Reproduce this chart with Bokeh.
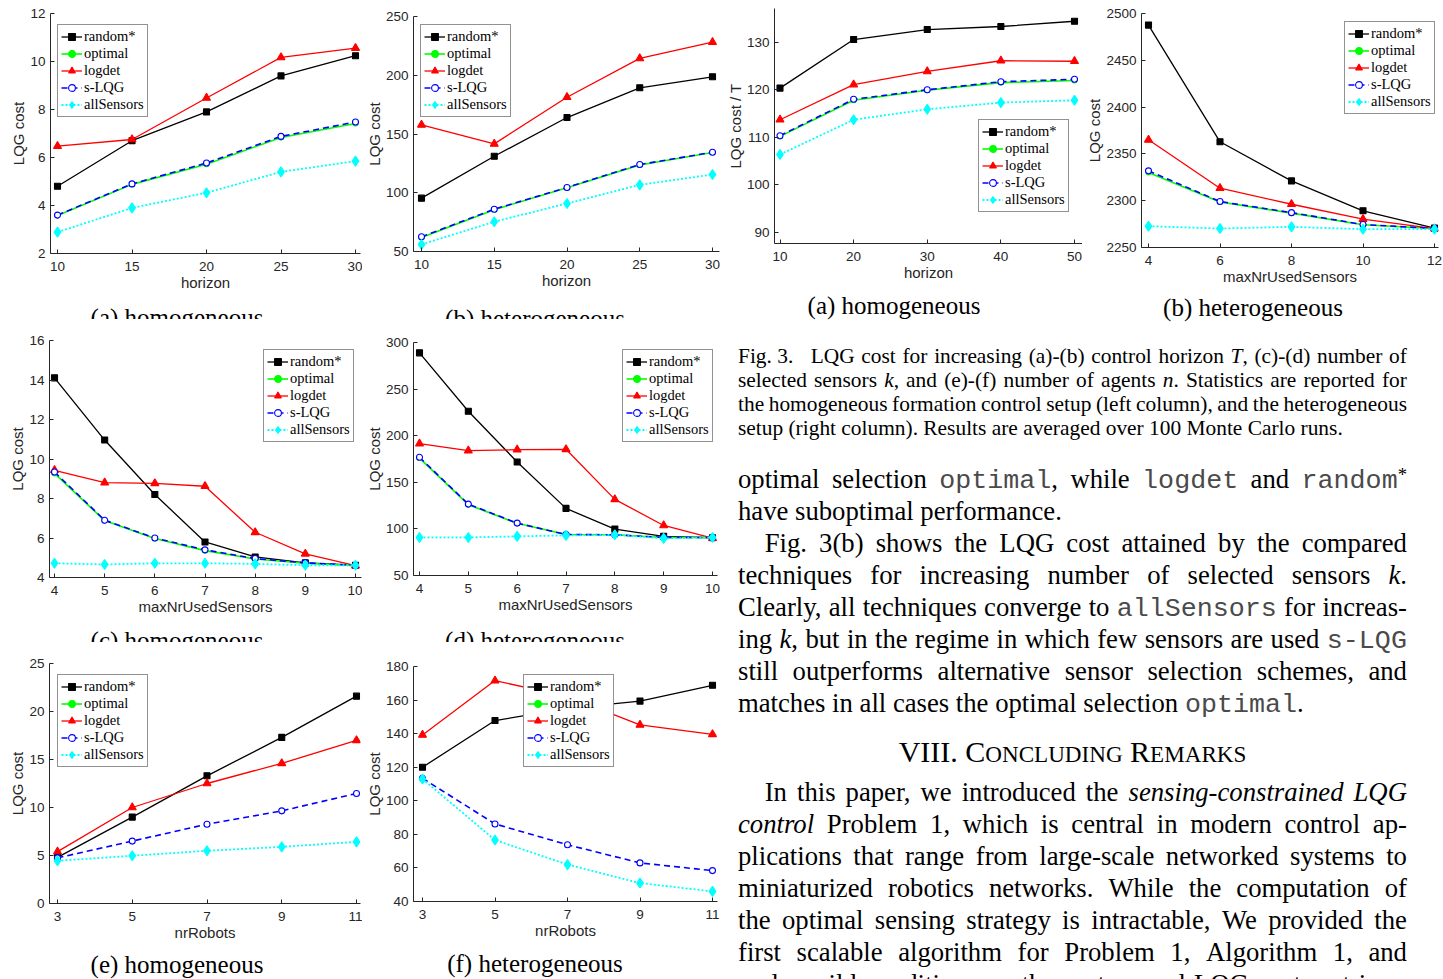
import numpy as np
from bokeh.plotting import figure
from bokeh.models import Range1d, FixedTicker, Legend, LegendItem, Div
from bokeh.layouts import row, column
from bokeh.embed import file_html
from bokeh.resources import INLINE

NaN = np.nan

# ---------------- data ----------------
NAMES = ["random*", "optimal", "logdet", "s-LQG", "allSensors"]

horizon = [10, 15, 20, 25, 30]
a_random = [4.8, 6.7, 7.9, 9.4, 10.24]
a_optimal = [3.58, 4.88, 5.72, 6.83, 7.42]
a_logdet = [6.47, 6.75, 8.48, 10.17, 10.56]
a_slqg = [3.6, 4.9, 5.77, 6.88, 7.48]
a_all = [2.89, 3.9, 4.53, 5.4, 5.85]

b_random = [95.4, 131.1, 164.0, 189.3, 198.7]
b_optimal = [62.0, 85.6, 104.2, 123.6, 134.2]
b_logdet = [157.8, 141.6, 181.3, 214.3, 228.2]
b_slqg = [62.5, 86.0, 104.5, 124.0, 134.5]
b_all = [56.0, 75.3, 90.9, 106.7, 115.5]

sensors = [4, 5, 6, 7, 8, 9, 10]
c_random = [14.11, 10.96, 8.2, 5.8, 5.04, 4.74, 4.62]
c_optimal = [9.27, 6.88, 5.97, 5.36, 4.94, 4.72, 4.6]
c_logdet = [9.43, 8.80, 8.77, 8.62, 6.29, 5.2, 4.6]
c_slqg = [9.34, 6.9, 6.0, 5.4, 4.96, 4.74, 4.62]
c_all = [4.72, 4.66, 4.72, 4.72, 4.69, 4.62, 4.62]

d_random = [288.9, 226.2, 171.8, 122.0, 99.8, 92.0, 90.5]
d_optimal = [176.0, 126.0, 106.0, 94.0, 93.7, 90.8, 90.8]
d_logdet = [191.5, 184.0, 185.0, 185.4, 131.7, 103.7, 90.0]
d_slqg = [176.8, 126.6, 106.2, 94.0, 93.7, 90.8, 90.8]
d_all = [90.8, 90.8, 92.0, 93.0, 93.7, 89.8, 90.8]

robots = [3, 5, 7, 9, 11]
e_random = [4.8, 9.0, 13.3, 17.3, 21.6]
e_optimal = [NaN, NaN, NaN, NaN, NaN]
e_logdet = [5.4, 10.0, 12.5, 14.6, 17.0]
e_slqg = [4.75, 6.5, 8.26, 9.65, 11.46]
e_all = [4.45, 4.97, 5.49, 5.9, 6.42]

f_random = [120.0, 147.8, 155.0, 159.4, 168.8]
f_optimal = [NaN, NaN, NaN, NaN, NaN]
f_logdet = [139.2, 171.6, 162.0, 145.2, 139.6]
f_slqg = [113.4, 86.2, 73.8, 63.0, 58.4]
f_all = [113.0, 76.6, 62.0, 51.0, 46.0]

horizon2 = [10, 20, 30, 40, 50]
g_random = [120.35, 130.56, 132.66, 133.3, 134.4]
g_optimal = [110.2, 117.8, 119.9, 121.5, 121.95]
g_logdet = [113.7, 121.1, 123.85, 126.1, 126.0]
g_slqg = [110.35, 118.0, 120.0, 121.7, 122.2]
g_all = [106.4, 113.7, 115.9, 117.3, 117.8]

sensors2 = [4, 6, 8, 10, 12]
h_random = [2487.9, 2362.9, 2321.0, 2289.0, 2270.4]
h_optimal = [2330.0, 2298.5, 2286.5, 2274.0, 2270.0]
h_logdet = [2365.0, 2313.2, 2296.0, 2280.0, 2270.0]
h_slqg = [2331.8, 2298.9, 2287.0, 2274.3, 2270.0]
h_all = [2272.5, 2270.0, 2271.8, 2269.3, 2269.3]

# tick values
a_yticks = [2, 4, 6, 8, 10, 12]
b_yticks = [50, 100, 150, 200, 250]
c_yticks = [4, 6, 8, 10, 12, 14, 16]
d_yticks = [50, 100, 150, 200, 250, 300]
e_yticks = [0, 5, 10, 15, 20, 25]
f_yticks = [40, 60, 80, 100, 120, 140, 160, 180]
g_yticks = [90, 100, 110, 120, 130]
h_yticks = [2250, 2300, 2350, 2400, 2450, 2500]

AXC = "#262626"
STY = [
    dict(color="black", width=1.3, dash="solid", marker="square", size=6, fill="black"),
    dict(color="#00ff00", width=1.6, dash="solid", marker="circle", size=5, fill="#00ff00"),
    dict(color="#ff0000", width=1.3, dash="solid", marker="triangle", size=8, fill="#ff0000"),
    dict(color="#0000ff", width=1.6, dash="6 4", marker="circle", size=6, fill="white"),
    dict(color="#00ffff", width=1.8, dash="2 2", marker="diamond", size=10, fill="#00ffff"),
]


def make_panel(canvas, frame, xcal, ycal, xdata, ys, xticks, yticks, xlabel, ylabel, legbox):
    cx0, cy0, cx1, cy1 = canvas
    l, t, r, b = frame
    (v1, p1), (v2, p2) = xcal
    (w1, q1), (w2, q2) = ycal
    fx = lambda p: v1 + (p - p1) * (v2 - v1) / (p2 - p1)
    fy = lambda q: w1 + (q - q1) * (w2 - w1) / (q2 - q1)
    p = figure(width=cx1 - cx0, height=cy1 - cy0, x_range=Range1d(fx(l), fx(r)), y_range=Range1d(fy(b), fy(t)),
               toolbar_location=None, output_backend="svg", title=None,
               min_border_left=l - cx0, min_border_right=cx1 - r,
               min_border_top=t - cy0, min_border_bottom=cy1 - b)
    p.frame_align = False
    p.outline_line_color = None
    p.grid.visible = False
    p.background_fill_color = "white"
    p.border_fill_color = "white"
    p.xaxis.ticker = FixedTicker(ticks=xticks)
    p.yaxis.ticker = FixedTicker(ticks=yticks)
    p.xaxis.axis_label = xlabel
    p.yaxis.axis_label = ylabel
    for ax in (p.xaxis, p.yaxis):
        ax.axis_line_color = AXC
        ax.axis_line_width = 1
        ax.major_tick_line_color = AXC
        ax.major_tick_in = 4
        ax.major_tick_out = 0
        ax.minor_tick_line_color = None
        ax.major_label_text_font = "Liberation Sans"
        ax.major_label_text_font_size = "13.5px"
        ax.major_label_text_color = AXC
        ax.axis_label_text_font = "Liberation Sans"
        ax.axis_label_text_font_size = "15px"
        ax.axis_label_text_font_style = "normal"
        ax.axis_label_text_color = AXC
        ax.axis_label_standoff = 0
    p.yaxis.major_label_standoff = 5
    p.xaxis.major_label_standoff = 8

    items = []
    for name, yv, st in zip(NAMES, ys, STY):
        yv = np.asarray(yv, dtype=float)
        lr = p.line(xdata, yv, line_color=st["color"], line_width=st["width"], line_dash=st["dash"])
        mr = p.scatter(xdata, yv, marker=st["marker"], size=st["size"], line_color=st["color"],
                       fill_color=st["fill"], line_width=1.1)
        items.append(LegendItem(label=name, renderers=[lr, mr]))
    L, T, R, B = legbox
    leg = Legend(items=items, location=(L - l, b - B),
                 border_line_color=AXC, border_line_width=1, background_fill_color="white",
                 background_fill_alpha=1.0, padding=3, spacing=0, margin=0, label_standoff=2,
                 glyph_width=21, glyph_height=17, label_height=17,
                 label_text_font="Liberation Serif", label_text_font_size="14.5px",
                 label_text_color="black")
    p.add_layout(leg)
    return p


def caption_strip(x0, y0, x1, y1, caps):
    parts = []
    for text, cx, cy in caps:
        parts.append(f'<div style="position:absolute;left:{cx - x0 - 160}px;width:320px;top:{cy - y0 - 15}px;'
                     f'height:30px;line-height:30px;text-align:center;white-space:nowrap;">{text}</div>')
    html = (f'<div style="position:relative;width:{x1 - x0}px;height:{y1 - y0}px;overflow:hidden;'
            f"font-family:'Liberation Serif',serif;font-size:25px;color:#000;background:white;\">"
            + "".join(parts) + "</div>")
    return Div(text=html, width=x1 - x0, height=y1 - y0, margin=(0, 0, 0, 0))


C1, LB, C3 = 362, 720, 1082   # column boundaries (px)
R1, R2, R3, RT = 302, 625, 951, 294   # bottom of plot canvases (px)

pa = make_panel((0, 0, C1, R1), (50, 13, 360, 253), ((10, 57), (30, 355)), ((12, 13), (2, 253)),
                horizon, [a_random, a_optimal, a_logdet, a_slqg, a_all], horizon, a_yticks,
                "horizon", "LQG cost", (57, 27, 148, 117))
pb = make_panel((C1, 0, LB, R1), (413, 16, 719, 251), ((10, 421), (30, 712)), ((250, 16), (50, 251)),
                horizon, [b_random, b_optimal, b_logdet, b_slqg, b_all], horizon, b_yticks,
                "horizon", "LQG cost", (420, 31, 507, 117))
cap1 = caption_strip(0, R1, LB, 319, [("(a) homogeneous", 177, 318), ("(b) heterogeneous", 535, 319)])
pc = make_panel((0, 319, C1, R2), (49, 340, 361, 577), ((4, 54), (10, 355)), ((16, 340), (4, 577)),
                sensors, [c_random, c_optimal, c_logdet, c_slqg, c_all], sensors, c_yticks,
                "maxNrUsedSensors", "LQG cost", (263, 353, 353, 442))
pd = make_panel((C1, 319, LB, R2), (413, 342, 717, 575), ((4, 419), (10, 712)), ((300, 342), (50, 575)),
                sensors, [d_random, d_optimal, d_logdet, d_slqg, d_all], sensors, d_yticks,
                "maxNrUsedSensors", "LQG cost", (622, 356, 711, 442))
cap2 = caption_strip(0, R2, LB, 642, [("(c) homogeneous", 177, 641), ("(d) heterogeneous", 535, 641)])
pe = make_panel((0, 642, C1, R3), (49, 663, 360, 903), ((3, 57), (11, 356)), ((25, 663), (0, 903)),
                robots, [e_random, e_optimal, e_logdet, e_slqg, e_all], robots, e_yticks,
                "nrRobots", "LQG cost", (57, 678, 148, 767))
pf = make_panel((C1, 642, LB, R3), (413, 666, 717, 901), ((3, 422), (11, 712)), ((180, 666), (40, 901)),
                robots, [f_random, f_optimal, f_logdet, f_slqg, f_all], robots, f_yticks,
                "nrRobots", "LQG cost", (523, 681, 611, 767))
cap3 = caption_strip(0, R3, LB, 979, [("(e) homogeneous", 177, 965), ("(f) heterogeneous", 535, 964)])
pg = make_panel((LB, 0, C3, RT), (774, 8, 1082, 243), ((10, 779.5), (50, 1074)), ((130, 41.7), (90, 232)),
                horizon2, [g_random, g_optimal, g_logdet, g_slqg, g_all], horizon2, g_yticks,
                "horizon", "LQG cost / T", (978, 125, 1066, 212))
ph = make_panel((C3, 0, 1443, RT), (1141, 13, 1438, 247), ((4, 1148), (12, 1434)), ((2500, 13.3), (2250, 246.7)),
                sensors2, [h_random, h_optimal, h_logdet, h_slqg, h_all], sensors2, h_yticks,
                "maxNrUsedSensors", "LQG cost", (1344, 28, 1432, 114))
cap4 = caption_strip(LB, RT, 1443, 330, [("(a) homogeneous", 894, 306), ("(b) heterogeneous", 1253, 308)])

# ---------------- text column ----------------
TT = "<span style=\"font-family:'Liberation Mono',monospace;color:#4a4a4a\">"
SUP = "<span style=\"position:relative;top:-0.4em;font-size:0.7em\">"


def fix(s):
    return s.replace("<tt>", TT).replace("</tt>", "</span>").replace("<sup>", SUP).replace("</sup>", "</span>")


caption_lines = [
    ("j", "Fig.\u00a03. \u2002LQG cost for increasing (a)-(b) control horizon <i>T</i>, (c)-(d) number of"),
    ("j", "selected sensors <i>k</i>, and (e)-(f) number of agents <i>n</i>. Statistics are reported for"),
    ("j", "the homogeneous formation control setup (left column), and the heterogeneous"),
    ("l", "setup (right column). Results are averaged over 100 Monte Carlo runs."),
]
body_lines = [
    ("j", 0, "optimal selection <tt>optimal</tt>, while <tt>logdet</tt> and <tt>random</tt><sup>*</sup>"),
    ("l", 0, "have suboptimal performance."),
    ("j", 1, "Fig. 3(b) shows the LQG cost attained by the compared"),
    ("j", 0, "techniques for increasing number of selected sensors <i>k</i>."),
    ("j", 0, "Clearly, all techniques converge to <tt>allSensors</tt> for increas-"),
    ("j", 0, "ing <i>k</i>, but in the regime in which few sensors are used <tt>s-LQG</tt>"),
    ("j", 0, "still outperforms alternative sensor selection schemes, and"),
    ("l", 0, "matches in all cases the optimal selection <tt>optimal</tt>."),
]
para_lines = [
    ("j", 1, "In this paper, we introduced the <i>sensing-constrained</i> <i>LQG</i>"),
    ("j", 0, "<i>control</i> Problem 1, which is central in modern control ap-"),
    ("j", 0, "plications that range from large-scale networked systems to"),
    ("j", 0, "miniaturized robotics networks. While the computation of"),
    ("j", 0, "the optimal sensing strategy is intractable, We provided the"),
    ("j", 0, "first scalable algorithm for Problem 1, Algorithm 1, and"),
    ("j", 0, "under mild conditions on the system and LQG cost matrices,"),
]

DX0, DY0 = LB, 330
DW = 1443 - DX0
DH = 979 - DY0
TL = 738 - DX0
TW = 669
BODY_FS = 26.7
CAP_FS = 21.4


def line_div(kind, top_ref, lh, fs, s, indent_em=0):
    top = top_ref - DY0
    base = (f"position:absolute;left:{TL}px;width:{TW}px;top:{top}px;height:{lh}px;"
            f"line-height:{lh}px;font-size:{fs}px;white-space:nowrap;"
            f"padding-left:{indent_em}em;box-sizing:border-box;")
    if kind == "j":
        spans = "".join(f"<span>{fix(w)}</span>" for w in s.split(" "))
        return f'<div style="{base}display:flex;justify-content:space-between;">{spans}</div>'
    return f'<div style="{base}">{fix(s)}</div>'


parts = []
for i, (k, s) in enumerate(caption_lines):
    parts.append(line_div(k, 344 + 24 * i, 24, CAP_FS, s))
for i, (k, ind, s) in enumerate(body_lines):
    parts.append(line_div(k, 463 + 32 * i, 32, BODY_FS, s, ind))
heading = ("VIII. C<span style=\"font-size:0.77em\">ONCLUDING</span> "
           "R<span style=\"font-size:0.77em\">EMARKS</span>")
parts.append(f'<div style="position:absolute;left:{TL}px;width:{TW}px;top:{736 - DY0}px;'
             f'height:32px;line-height:32px;font-size:30px;text-align:center;'
             f'white-space:nowrap;">{heading}</div>')
for i, (k, ind, s) in enumerate(para_lines):
    parts.append(line_div(k, 776 + 32 * i, 32, BODY_FS, s, ind))

html = (f'<div style="position:relative;width:{DW}px;height:{DH}px;overflow:hidden;'
        f"font-family:'Liberation Serif',serif;color:#000;background:white;\">" + "".join(parts) + "</div>")
div = Div(text=html, width=DW, height=DH, margin=(0, 0, 0, 0))

left = column(row(pa, pb), cap1, row(pc, pd), cap2, row(pe, pf), cap3)
right = column(row(pg, ph), cap4, div)
layout = row(left, right)

open("out.html", "w").write(file_html(layout, INLINE))
